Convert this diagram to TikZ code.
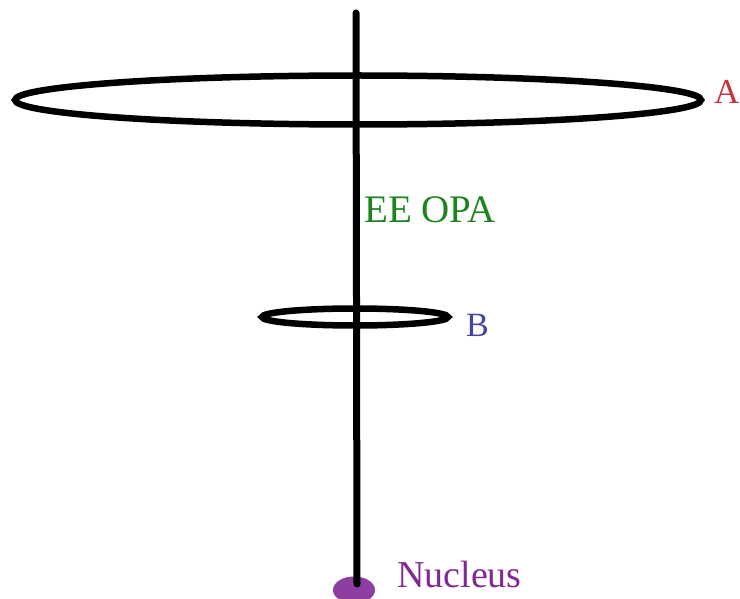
\documentclass[tikz,border=0pt]{standalone}
\usepackage{fontspec}
\setmainfont{Liberation Serif}
\usepackage{xcolor}
\usetikzlibrary{shapes,positioning,calc}

\definecolor{orbA}{RGB}{200,50,60}
\definecolor{orbB}{RGB}{70,70,160}
\definecolor{opagreen}{RGB}{30,130,30}
\definecolor{nucpurple}{RGB}{130,40,150}

\begin{document}
\begin{tikzpicture}[
        x=1pt, y=-1pt,
        orbit/.style={draw=black, line width=6.5pt},
        axis/.style={draw=black, line width=7pt, line cap=round},
        label/.style={inner sep=0pt, anchor=base west, font=\fontsize{39}{42}\selectfont},
        nucleus/.style={ellipse, fill=nucpurple!90, minimum width=42pt, minimum height=27pt, inner sep=0pt}
    ]
    \useasboundingbox (0,0) rectangle (740,599);

    % Nucleus and axis
    \node[nucleus] (nuc) at (354,590) {};
    \coordinate (top) at (356,13);
    \coordinate (core) at (357,584);

    % Orbits
    \draw[orbit] (358,100) ellipse [x radius=343pt, y radius=24.5pt];
    \draw[orbit] (355,317) ellipse [x radius=93pt, y radius=8.5pt];

    \draw[axis] (top) -- (core);

    % Labels
    \node[label, text=orbA, font=\fontsize{35}{38}\selectfont] (labA) at (714,104) {A};
    \node[label, text=opagreen] (opa) at (364,223) {EE OPA};
    \node[label, text=orbB, font=\fontsize{34}{36}\selectfont] (labB) at (466,337) {B};
    \node[label, text=nucpurple, font=\fontsize{38}{40}\selectfont] (labN) at (397,587) {Nucleus};
\end{tikzpicture}
\end{document}
